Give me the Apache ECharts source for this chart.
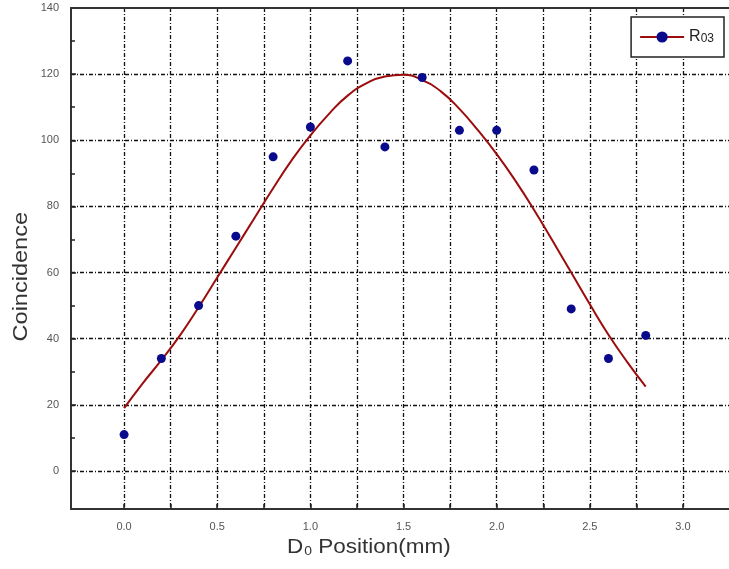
<!DOCTYPE html>
<html>
<head>
<meta charset="utf-8">
<script src="https://cdn.jsdelivr.net/npm/echarts@6/dist/echarts.min.js"></script>
<style>
    html, body { margin: 0; padding: 0; background: #fff; }
    #coincidence { width: 729px; height: 569px; }
</style>
</head>
<body>
<div id="coincidence"></div>
<script>
// measured points
const positions = [0.0, 0.2, 0.4, 0.6, 0.8, 1.0, 1.2, 1.4, 1.6, 1.8, 2.0, 2.2, 2.4, 2.6, 2.8]
const counts = [11, 34, 50, 71, 95, 104, 124, 98, 119, 103, 103, 91, 49, 34, 41]

// fitted curve
const fitX = [0.0, 0.1, 0.2, 0.3, 0.4, 0.5, 0.6, 0.7, 0.8, 0.9, 1.0, 1.1, 1.2, 1.3, 1.4,
    1.5, 1.6, 1.7, 1.8, 1.9, 2.0, 2.1, 2.2, 2.3, 2.4, 2.5, 2.6, 2.7, 2.8]
const fitY = [19, 26.5, 33.5, 41, 49.5, 58.5, 67.5, 76.5, 85.5, 94, 101.5, 108, 113.5, 117.2, 119.3,
    119.8, 118.2, 114.8, 109.5, 103, 95.8, 87.8, 79, 69.6, 60, 50.4, 41.2, 33, 25.5]

const xTicks = [0, 0.25, 0.5, 0.75, 1.0, 1.25, 1.5, 1.75, 2.0, 2.25, 2.5, 2.75, 3.0]
const xLabels = [0, 0.5, 1.0, 1.5, 2.0, 2.5, 3.0]
const yTicks = [0, 20, 40, 60, 80, 100, 120]
const yLabels = [0, 20, 40, 60, 80, 100, 120, 140]
const yMinorTicks = [10, 30, 50, 70, 90, 110, 130]

const X_MIN = -0.285, X_MAX = 3.247
const Y_MIN = -11.5, Y_MAX = 140

let chart = echarts.init(document.getElementById('coincidence'))

const gridLine = {
    show: true,
    lineStyle: { color: '#111', width: 1.3, type: [4, 2, 1, 2] }
}

let option = {
    animation: false,
    backgroundColor: '#fff',
    textStyle: { fontFamily: 'Liberation Sans, Arial, sans-serif' },
    grid: { left: 71, right: 0, top: 8, bottom: 60 },
    legend: {
        right: 5,
        top: 17,
        padding: [12, 10, 12, 8],
        borderColor: '#222',
        borderWidth: 1.5,
        backgroundColor: '#fff',
        itemWidth: 44,
        itemHeight: 14,
        itemGap: 14,
        data: ['R03'],
        formatter: function() {
            return '{a|R}{b|03}'
        },
        textStyle: {
            rich: {
                a: { fontSize: 16, color: '#222' },
                b: { fontSize: 12, color: '#222', padding: [4, 0, 0, 0] }
            }
        }
    },
    graphic: [
        {
            type: 'text',
            left: 11,
            top: 212,
            rotation: Math.PI / 2,
            scaleX: 1.12,
            style: {
                text: 'Coincidence',
                fontSize: 21,
                fill: '#333',
                fontFamily: 'Liberation Sans, Arial, sans-serif'
            }
        },
        {
            type: 'text',
            left: 287,
            top: 537,
            scaleX: 1.07,
            style: {
                text: '{d|D}{s|0}{d| Position(mm)}',
                fill: '#333',
                fontFamily: 'Liberation Sans, Arial, sans-serif',
                rich: {
                    d: { fontSize: 21, fill: '#333' },
                    s: { fontSize: 13, fill: '#333', padding: [7, 0, 0, 1] }
                }
            }
        }
    ],
    xAxis: [
        {
            type: 'value',
            min: X_MIN,
            max: X_MAX,
            axisLine: { show: true, onZero: false, lineStyle: { color: '#333', width: 2 } },
            axisTick: { show: true, inside: true, length: 5, customValues: xTicks, lineStyle: { color: '#222', width: 1.5 } },
            axisLabel: {
                customValues: xLabels,
                margin: 12,
                fontSize: 11,
                color: '#555',
                formatter: function(v) { return v.toFixed(1) }
            },
            splitLine: gridLine
        },
        {
            type: 'value',
            position: 'top',
            min: X_MIN,
            max: X_MAX,
            axisLine: { show: true, onZero: false, lineStyle: { color: '#333', width: 2 } },
            axisTick: { show: false },
            axisLabel: { show: false },
            splitLine: { show: false }
        }
    ],
    yAxis: [
        {
            type: 'value',
            min: Y_MIN,
            max: Y_MAX,
            axisLine: { show: true, onZero: false, lineStyle: { color: '#333', width: 2 } },
            axisTick: { show: true, inside: true, length: 5, customValues: yTicks, lineStyle: { color: '#222', width: 1.5 } },
            axisLabel: {
                customValues: yLabels,
                margin: 12,
                fontSize: 11,
                color: '#555'
            },
            splitLine: gridLine
        },
        {
            type: 'value',
            position: 'left',
            offset: 0,
            min: Y_MIN,
            max: Y_MAX,
            axisLine: { show: false, onZero: false },
            axisTick: { show: true, inside: true, length: 4, customValues: yMinorTicks, lineStyle: { color: '#222', width: 1.5 } },
            axisLabel: { show: false },
            splitLine: { show: false }
        }
    ],
    series: [
        {
            name: 'R03',
            type: 'line',
            smooth: true,
            showSymbol: false,
            symbol: 'circle',
            symbolSize: 9,
            data: fitX.map((x, i) => [x, fitY[i]]),
            lineStyle: { color: '#9b0d0d', width: 2 },
            itemStyle: { color: '#0a0a8c' },
            z: 3
        },
        {
            name: 'points',
            type: 'scatter',
            symbol: 'circle',
            symbolSize: 9,
            data: positions.map((x, i) => [x, counts[i]]),
            itemStyle: { color: '#0a0a8c', opacity: 1 },
            z: 4
        }
    ]
}

chart.setOption(option)
</script>
</body>
</html>
